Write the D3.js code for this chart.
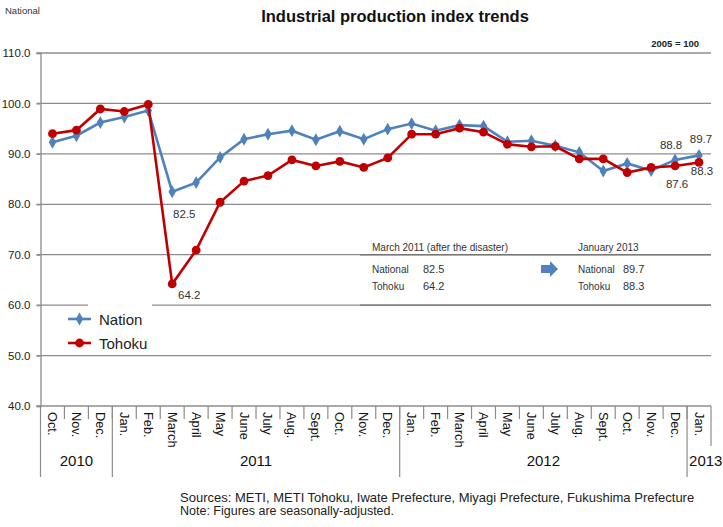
<!DOCTYPE html>
<html>
<head>
<meta charset="utf-8">
<script src="https://cdn.jsdelivr.net/npm/d3@7"></script>
<style>
  html, body { margin: 0; padding: 0; background: #fff; }
  svg { display: block; font-family: "Liberation Sans", Arial, sans-serif; }
</style>
</head>
<body>
<svg id="chart" width="723" height="527"></svg>
<script>
// Monthly categories, Oct 2010 – Jan 2013
const months = ["Oct.","Nov.","Dec.",
  "Jan.","Feb.","March","April","May","June","July","Aug.","Sept.","Oct.","Nov.","Dec.",
  "Jan.","Feb.","March","April","May","June","July","Aug.","Sept.","Oct.","Nov.","Dec.",
  "Jan."];
const years = ["2010","2011","2012","2013"];
const yearSpans = [3, 12, 12, 1];

// Industrial production index (2005 = 100), seasonally adjusted
const nation = [92.3, 93.6, 96.2, 97.3, 98.6, 82.5, 84.3, 89.3, 92.9, 93.9, 94.6, 92.8, 94.5, 92.9, 94.9,
  96.0, 94.6, 95.7, 95.5, 92.4, 92.6, 91.6, 90.3, 86.6, 88.1, 86.7, 88.8, 89.7];
const tohoku = [94.0, 94.7, 98.9, 98.4, 99.8, 64.2, 70.9, 80.4, 84.6, 85.7, 88.8, 87.6, 88.5, 87.3, 89.2,
  93.9, 93.9, 95.1, 94.3, 91.9, 91.4, 91.5, 89.0, 89.0, 86.3, 87.3, 87.6, 88.3];

const yTicks = [40, 50, 60, 70, 80, 90, 100, 110];

// Values printed next to points: [series, index, dx, dy]
const pointLabels = [
  ["nation", 5, 12, 22],
  ["tohoku", 5, 17, 11],
  ["nation", 26, -4, -15],
  ["nation", 27, 2, -16],
  ["tohoku", 26, 2, 18],
  ["tohoku", 27, 3, 9]
];

// Summary panel texts
const panelLeft = { title: "March 2011 (after the disaster)", national: "82.5", tohoku: "64.2" };
const panelRight = { title: "January 2013", national: "89.7", tohoku: "88.3" };

const svg = d3.select("#chart");
const plotLeft = 40.5, plotRight = 711, plotTop = 53, plotBottom = 406;
const blue = "#4f81bd", red = "#c00000", grid = "#8c8c8c", ink = "#222";

const x = d3.scaleBand().domain(d3.range(months.length)).range([plotLeft, plotRight]).padding(0);
const y = d3.scaleLinear().domain([40, 110]).range([plotBottom, plotTop]);
const cx = i => x(i) + x.bandwidth() / 2;

// Gridlines
svg.append("g").selectAll("line").data(yTicks).join("line")
  .attr("x1", plotLeft - 4).attr("x2", plotRight)
  .attr("y1", d => y(d)).attr("y2", d => y(d))
  .attr("stroke", grid).attr("stroke-width", 1.3);

// Y axis
const yAxis = d3.axisLeft(y).tickValues(yTicks).tickFormat(d3.format(".1f")).tickSize(4).tickPadding(6);
const ya = svg.append("g").attr("transform", `translate(${plotLeft},0)`).call(yAxis);
ya.select(".domain").attr("stroke", grid).attr("stroke-width", 1.3);
ya.selectAll(".tick line").attr("stroke", grid).attr("stroke-width", 1.3);
ya.selectAll(".tick text").attr("fill", ink).style("font-size", "11.5px").attr("font-family", "Liberation Sans, Arial, sans-serif");

// Category axis: month dividers, rotated month labels, year groups
const xa = svg.append("g");
xa.selectAll("line.m").data(d3.range(1, months.length)).join("line")
  .attr("class", "m")
  .attr("x1", i => x(i)).attr("x2", i => x(i))
  .attr("y1", plotBottom).attr("y2", plotBottom + 13)
  .attr("stroke", grid).attr("stroke-width", 1.2);
xa.selectAll("text.m").data(months).join("text")
  .attr("class", "m")
  .attr("transform", (d, i) => `translate(${cx(i)},${plotBottom + 6}) rotate(90)`)
  .attr("dominant-baseline", "central")
  .attr("fill", "#111").style("font-size", "12.8px")
  .text(d => d);

let start = 0;
const groups = years.map((yr, k) => {
  const g = { yr, s: start, e: start + yearSpans[k] };
  start += yearSpans[k];
  return g;
});
const groupEdge = i => (i >= months.length ? plotRight : x(i));
xa.selectAll("line.y").data(groups).join("line")
  .attr("class", "y")
  .attr("x1", g => groupEdge(g.s)).attr("x2", g => groupEdge(g.s))
  .attr("y1", plotBottom).attr("y2", plotBottom + 71)
  .attr("stroke", grid).attr("stroke-width", 1.2);
xa.append("line")
  .attr("x1", plotRight).attr("x2", plotRight).attr("y1", plotBottom).attr("y2", plotBottom + 40)
  .attr("stroke", grid).attr("stroke-width", 1.2);
xa.selectAll("text.y").data(groups).join("text")
  .attr("class", "y")
  .attr("x", g => {
    const w = groupEdge(g.e) - groupEdge(g.s);
    return w < 40 ? groupEdge(g.s) + 2 : (groupEdge(g.s) + groupEdge(g.e)) / 2;
  })
  .attr("text-anchor", g => (groupEdge(g.e) - groupEdge(g.s) < 40 ? "start" : "middle"))
  .attr("y", plotBottom + 60)
  .attr("fill", "#111").style("font-size", "15px")
  .text(g => g.yr);

// Series lines and markers
const line = d3.line().x((d, i) => cx(i)).y(d => y(d));
svg.append("path").datum(nation)
  .attr("fill", "none").attr("stroke", blue).attr("stroke-width", 2.6).attr("d", line);
const diamond = d3.symbol().type(d3.symbolDiamond).size(48);
svg.append("g").selectAll("path").data(nation).join("path")
  .attr("transform", (d, i) => `translate(${cx(i)},${y(d)})`)
  .attr("d", diamond).attr("fill", blue);

svg.append("path").datum(tohoku)
  .attr("fill", "none").attr("stroke", red).attr("stroke-width", 2.6).attr("d", line);
svg.append("g").selectAll("circle").data(tohoku).join("circle")
  .attr("cx", (d, i) => cx(i)).attr("cy", d => y(d)).attr("r", 4.4)
  .attr("fill", red);

// Value labels
const seriesMap = { nation, tohoku };
svg.append("g").selectAll("text").data(pointLabels).join("text")
  .attr("x", d => cx(d[1]) + d[2])
  .attr("y", d => y(seriesMap[d[0]][d[1]]) + d[3])
  .attr("text-anchor", "middle").attr("dominant-baseline", "central")
  .attr("fill", "#333").style("font-size", "11.5px")
  .text(d => d3.format(".1f")(seriesMap[d[0]][d[1]]));

// Legend
const legend = svg.append("g");
legend.append("rect").attr("x", 88).attr("y", 301).attr("width", 64).attr("height", 52).attr("fill", "#fff");
const legItems = [
  { name: "Nation", color: blue, sym: "diamond", yy: 319 },
  { name: "Tohoku", color: red, sym: "circle", yy: 343 }
];
legItems.forEach(it => {
  legend.append("line").attr("x1", 68).attr("x2", 91).attr("y1", it.yy).attr("y2", it.yy)
    .attr("stroke", it.color).attr("stroke-width", 2.6);
  if (it.sym === "diamond") {
    legend.append("path").attr("transform", `translate(79.5,${it.yy})`).attr("d", diamond).attr("fill", it.color);
  } else {
    legend.append("circle").attr("cx", 79.5).attr("cy", it.yy).attr("r", 4.4).attr("fill", it.color);
  }
  legend.append("text").attr("x", 99).attr("y", it.yy).attr("dominant-baseline", "central")
    .attr("fill", ink).style("font-size", "15px").text(it.name);
});

// Summary panel
const panel = svg.append("g").style("font-size", "10px").attr("fill", "#333");
[[panelLeft, 372, 423], [panelRight, 578, 623]].forEach(([p, tx, vx]) => {
  panel.append("text").attr("x", tx).attr("y", 247).attr("dominant-baseline", "central").text(p.title);
  panel.append("text").attr("x", tx).attr("y", 269).attr("dominant-baseline", "central").text("National");
  panel.append("text").attr("x", vx).attr("y", 269).attr("dominant-baseline", "central").style("font-size", "11px").text(p.national);
  panel.append("text").attr("x", tx).attr("y", 286).attr("dominant-baseline", "central").text("Tohoku");
  panel.append("text").attr("x", vx).attr("y", 286).attr("dominant-baseline", "central").style("font-size", "11px").text(p.tohoku);
});
panel.append("line").attr("x1", 360).attr("x2", plotRight).attr("y1", y(70)).attr("y2", y(70))
  .attr("stroke", "#777").attr("stroke-width", 1.4);
panel.append("line").attr("x1", 360).attr("x2", plotRight).attr("y1", y(60)).attr("y2", y(60))
  .attr("stroke", "#777").attr("stroke-width", 1.4);
// Block arrow between the two columns
panel.append("path")
  .attr("d", "M541,265 L550,265 L550,261 L558,269 L550,277 L550,273 L541,273 Z")
  .attr("fill", blue);

// Titles and notes
svg.append("text").attr("x", 395).attr("y", 22).attr("text-anchor", "middle")
  .attr("font-weight", "bold").attr("fill", "#111").style("font-size", "16.5px")
  .text("Industrial production index trends");
svg.append("text").attr("x", 5).attr("y", 14).attr("fill", "#333").style("font-size", "9.5px").text("National");
svg.append("text").attr("x", 699).attr("y", 47).attr("text-anchor", "end")
  .attr("font-weight", "bold").attr("fill", "#222").style("font-size", "9.5px").text("2005 = 100");
svg.append("text").attr("x", 180).attr("y", 502).attr("fill", ink).style("font-size", "13px")
  .text("Sources: METI, METI Tohoku, Iwate Prefecture, Miyagi Prefecture, Fukushima Prefecture");
svg.append("text").attr("x", 180).attr("y", 515).attr("fill", ink).style("font-size", "12.5px")
  .text("Note: Figures are seasonally-adjusted.");
</script>
</body>
</html>
